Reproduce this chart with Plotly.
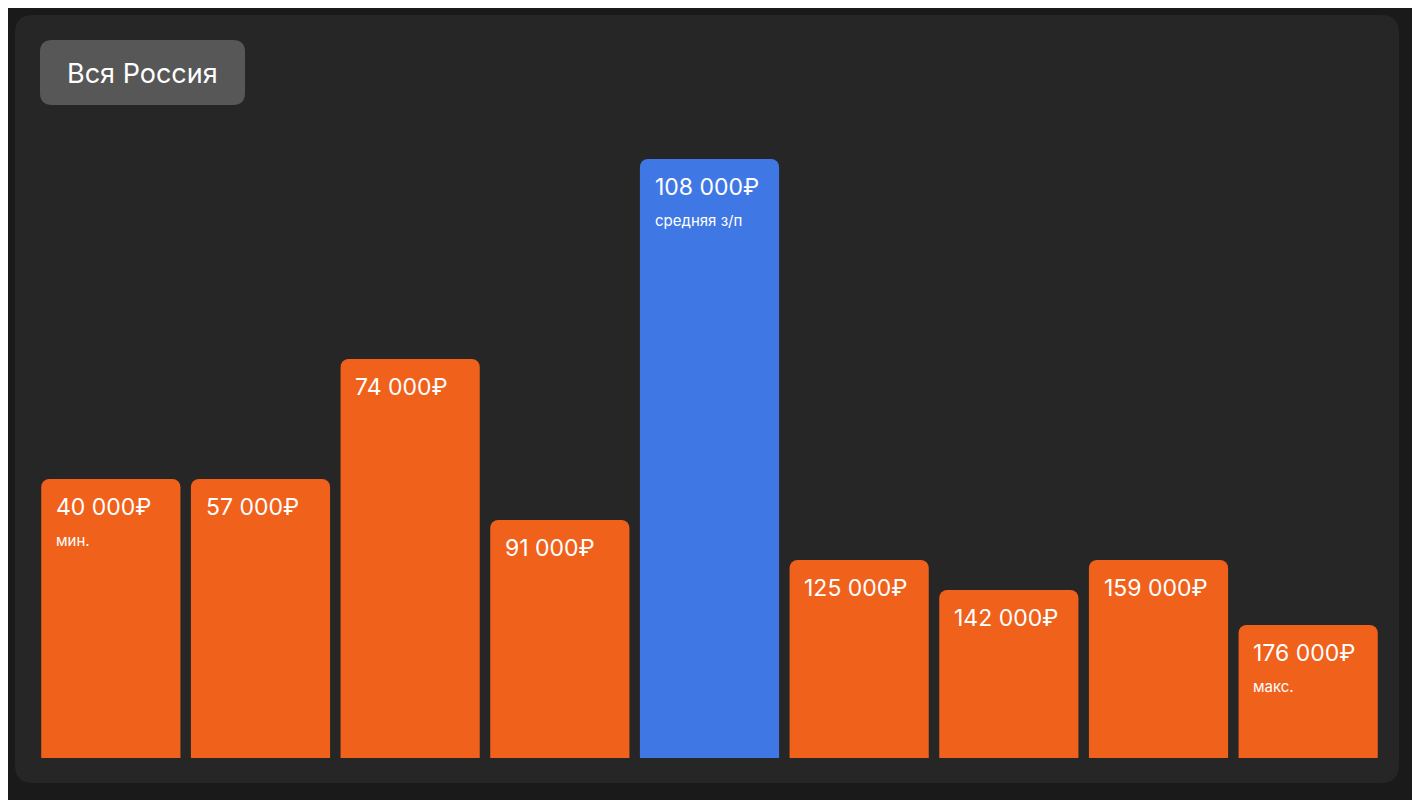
import plotly.graph_objects as go

categories = ["40 000₽", "57 000₽", "74 000₽", "91 000₽", "108 000₽", "125 000₽", "142 000₽", "159 000₽", "176 000₽"]
share = [27.9, 27.9, 39.9, 23.8, 59.9, 19.8, 16.8, 19.8, 13.3]
sublabels = ["мин.", "", "", "", "средняя з/п", "", "", "", "макс."]
colors = ["#F0611C"] * 4 + ["#3F78E5"] + ["#F0611C"] * 4

OFF = 8  # page body margin
W, H = 1412, 792
L, R, T, B = 28, 37, 50, 42
pw, ph = W - L - R, H - T - B

def px(x): return (x - OFF - L) / pw
def py(y): return (H - B - (y - OFF)) / ph

def rrect(x0, y0, x1, y1, r):
    p = lambda x, y: f"{px(x):.5f},{py(y):.5f}"
    return (f"M{p(x0+r,y0)} L{p(x1-r,y0)} Q{p(x1,y0)} {p(x1,y0+r)} L{p(x1,y1-r)} "
            f"Q{p(x1,y1)} {p(x1-r,y1)} L{p(x0+r,y1)} Q{p(x0,y1)} {p(x0,y1-r)} "
            f"L{p(x0,y0+r)} Q{p(x0,y0)} {p(x0+r,y0)} Z")

fig = go.Figure(go.Bar(x=categories, y=share, marker=dict(color=colors, cornerradius=8, line_width=0),
                       hoverinfo="skip"))

shapes = [
    dict(type="path", xref="paper", yref="paper", path=rrect(15, 15, 1399, 783, 18),
         fillcolor="#262626", line_width=0, layer="below"),
    dict(type="path", xref="paper", yref="paper", path=rrect(40, 40, 245, 105, 12),
         fillcolor="#575757", line_width=0, layer="below"),
]
annotations = [dict(xref="paper", yref="paper", x=px(142.5), y=py(73), text="Вся Россия",
                    xanchor="center", yanchor="middle",
                    showarrow=False, font=dict(size=27, color="white", family="Inter"))]
for c, v, s in zip(categories, share, sublabels):
    annotations.append(dict(x=c, y=v, text=c, showarrow=False, xanchor="left", yanchor="top",
                            xshift=-57, yshift=-12, font=dict(size=23, color="white", family="Inter")))
    if s:
        annotations.append(dict(x=c, y=v, text=s, showarrow=False, xanchor="left", yanchor="top",
                                xshift=-57, yshift=-50, font=dict(size=15, color="white", family="Inter")))

fig.update_layout(
    width=W, height=H, margin=dict(l=L, r=R, t=T, b=B),
    paper_bgcolor="#1a1a1a", plot_bgcolor="rgba(0,0,0,0)",
    bargap=0.07, showlegend=False, shapes=shapes, annotations=annotations,
    xaxis=dict(visible=False), yaxis=dict(visible=False, range=[0, 70]),
)
fig.write_html("out.html")
